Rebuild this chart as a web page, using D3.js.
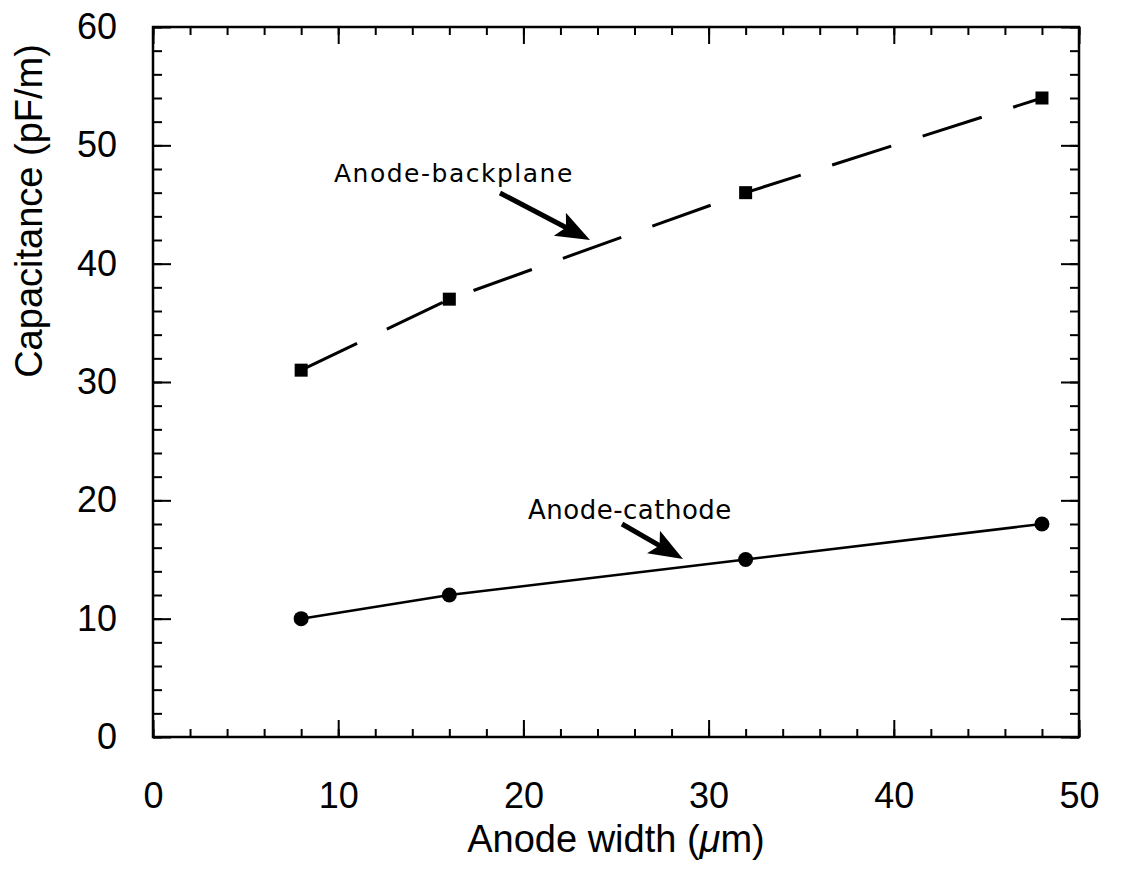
<!DOCTYPE html>
<html>
<head>
<meta charset="utf-8">
<script src="https://cdn.jsdelivr.net/npm/d3@7"></script>
<style>
  html, body { margin: 0; padding: 0; background: #fff; }
  svg { display: block; }
  text { fill: #000; }
</style>
</head>
<body>
<svg id="chart" width="1126" height="876"></svg>
<script>
// Anode width (µm) at which capacitance was computed
const anodeWidth = [8, 16, 32, 48];
// Capacitance per unit length (pF/m)
const backplaneCap = [31, 37, 46, 54];
const cathodeCap = [10, 12, 15, 18];

const xMajorTicks = [0, 10, 20, 30, 40, 50];
const yMajorTicks = [0, 10, 20, 30, 40, 50, 60];
const xMinorTicks = d3.range(0, 51, 2);
const yMinorTicks = d3.range(0, 61, 2);

const svg = d3.select("#chart");
const m = { left: 153, right: 1079, top: 27, bottom: 737 };

const x = d3.scaleLinear().domain([0, 50]).range([m.left, m.right]);
const y = d3.scaleLinear().domain([0, 60]).range([m.bottom, m.top]);

const tickFont = "Liberation Sans, Arial, sans-serif";

// frame
svg.append("rect")
  .attr("x", m.left).attr("y", m.top)
  .attr("width", m.right - m.left).attr("height", m.bottom - m.top)
  .attr("fill", "none").attr("stroke", "#000").attr("stroke-width", 2.5);

function styleAxis(g, labels) {
  g.select(".domain").remove();
  g.selectAll(".tick line").attr("stroke", "#000").attr("stroke-width", 2);
  if (!labels) g.selectAll(".tick text").remove();
  else g.selectAll(".tick text")
        .attr("font-family", tickFont).attr("font-size", 36).attr("fill", "#000");
}

// bottom axis (inward ticks)
svg.append("g").attr("transform", `translate(0,${m.bottom})`)
  .call(d3.axisBottom(x).tickValues(xMinorTicks).tickSize(-8).tickFormat(""))
  .call(g => styleAxis(g, false));
svg.append("g").attr("transform", `translate(0,${m.bottom})`)
  .call(d3.axisBottom(x).tickValues(xMajorTicks).tickSize(-17).tickPadding(45).tickFormat(d3.format("d")))
  .call(g => styleAxis(g, true));

// top axis
svg.append("g").attr("transform", `translate(0,${m.top})`)
  .call(d3.axisTop(x).tickValues(xMinorTicks).tickSize(-8).tickFormat(""))
  .call(g => styleAxis(g, false));
svg.append("g").attr("transform", `translate(0,${m.top})`)
  .call(d3.axisTop(x).tickValues(xMajorTicks).tickSize(-17).tickFormat(""))
  .call(g => styleAxis(g, false));

// left axis
svg.append("g").attr("transform", `translate(${m.left},0)`)
  .call(d3.axisLeft(y).tickValues(yMinorTicks).tickSize(-9).tickFormat(""))
  .call(g => styleAxis(g, false));
svg.append("g").attr("transform", `translate(${m.left},0)`)
  .call(d3.axisLeft(y).tickValues(yMajorTicks).tickSize(-18).tickPadding(36).tickFormat(d3.format("d")))
  .call(g => styleAxis(g, true));

// right axis
svg.append("g").attr("transform", `translate(${m.right},0)`)
  .call(d3.axisRight(y).tickValues(yMinorTicks).tickSize(-9).tickFormat(""))
  .call(g => styleAxis(g, false));
svg.append("g").attr("transform", `translate(${m.right},0)`)
  .call(d3.axisRight(y).tickValues(yMajorTicks).tickSize(-18).tickFormat(""))
  .call(g => styleAxis(g, false));

// axis titles
const xt = svg.append("text")
  .attr("x", 616).attr("y", 852)
  .attr("text-anchor", "middle")
  .attr("font-family", tickFont).attr("font-size", 38);
xt.append("tspan").text("Anode width (");
xt.append("tspan").attr("font-style", "italic").text("\u03bc");
xt.append("tspan").text("m)");

svg.append("text")
  .attr("transform", "translate(42,211) rotate(-90)")
  .attr("text-anchor", "middle")
  .attr("font-family", tickFont).attr("font-size", 38)
  .text("Capacitance (pF/m)");

// series lines
const line = d3.line().x(d => x(d[0])).y(d => y(d[1]));
const backPts = anodeWidth.map((w, i) => [w, backplaneCap[i]]);
const cathPts = anodeWidth.map((w, i) => [w, cathodeCap[i]]);

svg.append("path").datum(backPts)
  .attr("d", line).attr("fill", "none")
  .attr("stroke", "#000").attr("stroke-width", 3)
  .attr("stroke-dasharray", "62,33");

svg.append("path").datum(cathPts)
  .attr("d", line).attr("fill", "none")
  .attr("stroke", "#000").attr("stroke-width", 2.5);

// markers
svg.selectAll("rect.mk").data(backPts).join("rect")
  .attr("class", "mk")
  .attr("x", d => x(d[0]) - 6.5).attr("y", d => y(d[1]) - 6.5)
  .attr("width", 13).attr("height", 13).attr("fill", "#000");

svg.selectAll("circle.mk").data(cathPts).join("circle")
  .attr("class", "mk")
  .attr("cx", d => x(d[0])).attr("cy", d => y(d[1]))
  .attr("r", 7.5).attr("fill", "#000");

// annotation arrows: thick shaft with a filled, slightly notched head
function arrow(x1, y1, x2, y2) {
  const ang = Math.atan2(y2 - y1, x2 - x1);
  const L = 34, W = 13;
  const c = Math.cos(ang), s = Math.sin(ang);
  const bx = x2 - L * c, by = y2 - L * s;
  svg.append("line")
    .attr("x1", x1).attr("y1", y1).attr("x2", bx + 8 * c).attr("y2", by + 8 * s)
    .attr("stroke", "#000").attr("stroke-width", 5);
  const px = -s * W, py = c * W;
  svg.append("path")
    .attr("d", `M${x2},${y2} L${bx + px},${by + py} L${bx + 7 * c},${by + 7 * s} L${bx - px},${by - py} Z`)
    .attr("fill", "#000");
}

svg.append("text")
  .attr("x", 334).attr("y", 182)
  .attr("font-family", "DejaVu Sans, sans-serif").attr("font-size", 25)
  .attr("letter-spacing", 1.5)
  .text("Anode-backplane");
arrow(500, 193, 590, 240);

svg.append("text")
  .attr("x", 528).attr("y", 519)
  .attr("font-family", "DejaVu Sans, sans-serif").attr("font-size", 26)
  .attr("letter-spacing", 0.5)
  .text("Anode-cathode");
arrow(622, 524, 683, 559);
</script>
</body>
</html>
